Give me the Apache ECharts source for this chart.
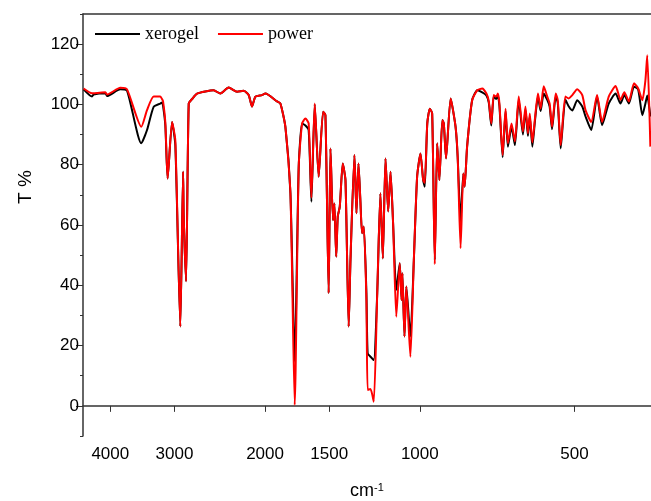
<!DOCTYPE html>
<html>
<head>
<meta charset="utf-8">
<script src="https://cdn.jsdelivr.net/npm/echarts@6/dist/echarts.min.js"></script>
<style>
  html, body { margin: 0; padding: 0; background: #fff; }
  #chart { width: 651px; height: 501px; }
</style>
</head>
<body>
<div id="chart"></div>
<script>
// wavenumber (cm-1)
const wavenumbers = [
  4508, 4341, 4310, 4089, 4058, 3824, 3711, 3481, 3393, 3294, 3197, 3173, 3158, 3126, 3094,
  3033, 2989, 2923, 2887, 2879, 2849, 2815, 2773, 2712, 2518, 2443, 2354, 2267, 2201, 2152,
  2120, 2088, 2027, 1997, 1895, 1867, 1826, 1785, 1751, 1720, 1694, 1669, 1645, 1625, 1601,
  1573, 1542, 1526, 1504, 1492, 1475, 1466, 1454, 1444, 1431, 1412, 1395, 1375, 1364, 1340,
  1328, 1316, 1305, 1295, 1285, 1270, 1263, 1247, 1229, 1210, 1193, 1180, 1166, 1152, 1140,
  1127, 1111, 1094, 1085, 1081, 1071, 1062, 1043, 1027, 1012, 997, 985, 978, 967, 956,
  946, 935, 925, 916, 904, 898, 889, 871, 852, 844, 833, 823, 818, 809, 791,
  773, 756, 742, 734, 726, 718, 710, 705, 700, 690, 681, 674, 663, 653, 642,
  630, 623, 616, 611, 604, 597, 589, 582, 574, 565, 559, 553, 544, 539, 532,
  521, 513, 505, 494, 483, 476, 464, 452, 442, 429, 416, 407, 400, 392, 383,
  376, 369, 364, 361, 356
]

const xerogel = [
  105.0, 102.6, 103.3, 103.7, 102.8, 105.0, 104.6, 87.1, 91.5, 99.2, 100.3, 100.6, 99.5, 93.0, 75.4,
  94.2, 86.5, 26.3, 77.7, 62.8, 41.3, 100.3, 101.8, 103.6, 104.7, 103.6, 105.6, 104.2, 104.5, 103.1,
  99.3, 102.6, 103.1, 103.6, 101.0, 100.3, 92.6, 70.5, 14.7, 79.3, 93.7, 93.0, 91.5, 67.7, 100.0,
  76.0, 97.6, 96.4, 37.4, 85.4, 61.6, 67.1, 49.5, 62.8, 66.1, 80.4, 74.9, 26.3, 48.4, 83.2,
  63.9, 80.4, 68.3, 57.3, 59.5, 37.4, 17.4, 16.3, 15.2, 37.4, 70.5, 48.9, 82.1, 64.5, 77.7,
  60.6, 38.4, 47.3, 35.1, 44.0, 23.0, 39.6, 23.0, 48.4, 76.0, 83.7, 74.9, 72.7, 93.7, 98.6,
  97.0, 48.4, 87.1, 74.9, 94.8, 93.7, 82.1, 102.0, 92.6, 82.7, 61.0, 77.1, 72.7, 86.0, 101.4,
  104.7, 104.0, 103.0, 100.5, 93.0, 102.6, 101.8, 103.0, 99.5, 82.5, 97.8, 86.0, 92.5, 86.5, 101.5,
  90.0, 98.3, 89.5, 96.0, 86.0, 94.5, 102.6, 97.8, 103.6, 101.5, 99.3, 91.8, 102.6, 100.5, 85.4,
  101.6, 99.3, 98.0, 101.4, 99.3, 96.0, 91.5, 102.6, 93.1, 100.3, 103.6, 100.3, 103.1, 100.3, 105.9,
  105.0, 96.4, 100.3, 103.0, 96.0
]

const power = [
  105.3, 103.7, 103.7, 104.0, 103.3, 105.5, 105.0, 92.6, 98.1, 102.6, 102.6, 101.8, 101.0, 94.0, 75.4,
  94.2, 88.0, 26.3, 77.7, 62.8, 41.3, 100.3, 101.8, 103.6, 104.7, 103.6, 105.6, 104.2, 104.5, 103.1,
  99.3, 102.6, 103.1, 103.6, 101.0, 100.3, 92.6, 70.5, 0.3, 79.3, 93.7, 95.3, 93.7, 69.0, 100.3,
  76.0, 97.6, 96.4, 37.4, 85.4, 61.6, 67.1, 49.5, 62.8, 66.1, 80.4, 74.9, 26.3, 48.4, 83.2,
  63.9, 80.4, 68.3, 57.3, 59.5, 35.0, 5.3, 5.6, 1.4, 37.4, 70.5, 48.9, 82.1, 64.5, 77.7,
  60.6, 29.6, 47.3, 35.1, 44.0, 23.0, 39.6, 16.3, 48.4, 76.0, 83.7, 74.9, 74.0, 93.7, 98.6,
  97.0, 47.0, 87.1, 74.9, 94.8, 93.7, 82.1, 102.0, 92.6, 82.7, 52.3, 77.1, 72.7, 86.0, 101.4,
  104.7, 105.3, 103.6, 101.0, 93.7, 103.1, 102.6, 103.6, 100.3, 83.2, 98.6, 87.1, 93.7, 87.7, 102.6,
  91.0, 99.3, 90.4, 97.0, 87.4, 95.3, 103.6, 98.6, 106.0, 102.6, 100.3, 92.6, 103.6, 101.4, 86.5,
  102.6, 102.0, 103.1, 105.0, 103.1, 98.1, 94.2, 103.1, 94.2, 102.6, 106.1, 101.5, 104.0, 101.0, 107.0,
  105.3, 101.4, 108.0, 116.3, 86.0
]

const xTicks = [4000, 3000, 2000, 1500, 1000, 500]
const yTicks = [0, 20, 40, 60, 80, 100, 120]

const chart = echarts.init(document.getElementById('chart'))

const axisColor = '#333'
const sans = 'Liberation Sans'

chart.setOption({
  animation: false,
  grid: { left: 83, right: 0, top: 14, bottom: 65, outerBoundsMode: 'none' },
  legend: {
    left: 90,
    top: 20,
    itemWidth: 45,
    itemHeight: 2,
    itemGap: 19,
    icon: 'rect',
    textStyle: { fontFamily: 'Liberation Serif', fontSize: 18, color: '#000' },
    data: ['xerogel', 'power']
  },
  xAxis: [
    {
      type: 'log',
      inverse: true,
      min: 355,
      max: 4520,
      name: 'cm{sup|-1}',
      nameLocation: 'middle',
      nameGap: 46,
      nameTextStyle: {
        fontFamily: sans,
        fontSize: 18,
        color: '#000',
        rich: { sup: { fontFamily: sans, fontSize: 11, verticalAlign: 'top', padding: [0, 0, 8, 0] } }
      },
      axisLine: { lineStyle: { color: axisColor, width: 1.5 } },
      axisTick: { length: 6, customValues: xTicks, lineStyle: { color: axisColor } },
      axisLabel: {
        customValues: xTicks,
        formatter: v => String(v),
        margin: 10,
        fontFamily: sans,
        fontSize: 17,
        color: '#000'
      },
      splitLine: { show: false },
      minorTick: { show: false }
    },
    {
      type: 'log',
      inverse: true,
      position: 'top',
      min: 355,
      max: 4520,
      axisLine: { onZero: false, lineStyle: { color: axisColor, width: 1.5 } },
      axisTick: { show: false },
      axisLabel: { show: false },
      splitLine: { show: false }
    }
  ],
  yAxis: [
    {
      type: 'value',
      min: -10,
      max: 130,
      interval: 10,
      axisLine: { show: true, lineStyle: { color: axisColor, width: 1.5 } },
      axisTick: { length: 7, customValues: yTicks, lineStyle: { color: axisColor } },
      axisLabel: { customValues: yTicks, margin: 4, fontFamily: sans, fontSize: 17, color: '#000' },
      splitLine: { show: false }
    },
    {
      // minor ticks every 10
      type: 'value',
      min: -10,
      max: 130,
      interval: 10,
      position: 'left',
      axisLine: { show: false },
      axisTick: { length: 3, lineStyle: { color: axisColor } },
      axisLabel: { show: false },
      splitLine: { show: false }
    }
  ],
  graphic: [
    {
      type: 'text',
      x: 26,
      y: 187,
      rotation: Math.PI / 2,
      style: {
        text: 'T %',
        fontFamily: sans,
        fontSize: 19,
        fill: '#000',
        align: 'center',
        verticalAlign: 'middle'
      }
    }
  ],
  series: [
    {
      name: 'xerogel',
      type: 'line',
      showSymbol: false,
      symbol: 'none',
      smooth: 0.2,
      color: '#000',
      lineStyle: { width: 2 },
      data: wavenumbers.map((w, i) => [w, xerogel[i]])
    },
    {
      name: 'power',
      type: 'line',
      showSymbol: false,
      symbol: 'none',
      smooth: 0.2,
      color: '#ff0000',
      lineStyle: { width: 2 },
      data: wavenumbers.map((w, i) => [w, power[i]])
    }
  ]
})
</script>
</body>
</html>
